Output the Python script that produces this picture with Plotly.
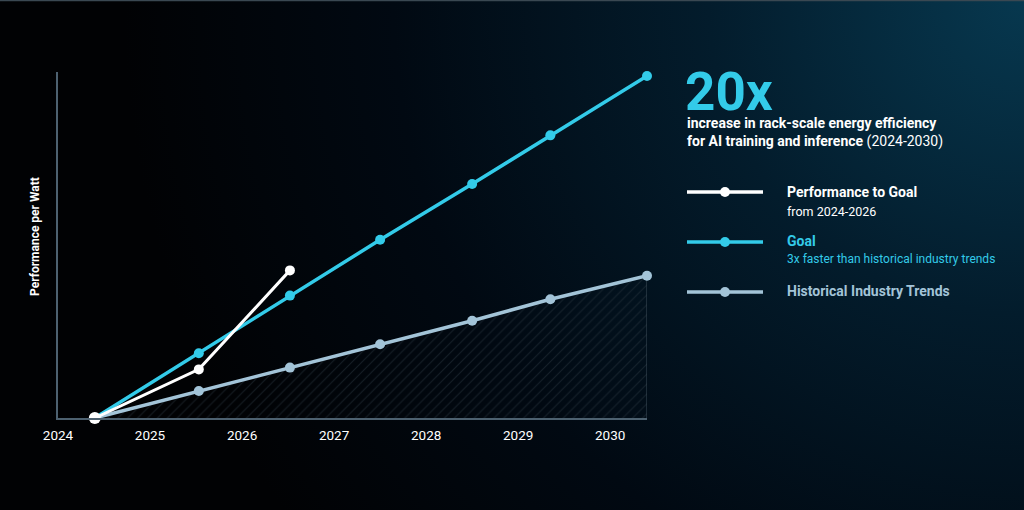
import plotly.graph_objects as go

# chart values
start_year = 2024.4
years = [2024.4, 2025.53, 2026.52, 2027.5, 2028.5, 2029.35, 2030.4]
goal = [1.0, 4.6, 7.8, 10.9, 14.0, 16.7, 20.0]
historical = [1.0, 2.5, 3.8, 5.1, 6.4, 7.6, 8.9]
perf_years = [2024.4, 2025.53, 2026.52]
performance = [1.0, 3.7, 9.2]
tick_years = [2024, 2025, 2026, 2027, 2028, 2029, 2030]

W, H = 1024, 510
CYAN = "#33cbe9"
STEEL = "#a3c4d8"
WHITE = "#ffffff"
AXIS = "#4d6170"
FONT = "Roboto, Liberation Sans, sans-serif"


def px(x):
    return x / W


def py(y):
    return 1 - y / H


fig = go.Figure()

# background glow, drawn on a full-page hidden subplot
fig.add_trace(go.Scatter(
    x=[0.12, 1.88, 1.88, 0.12, 0.12], y=[-0.76, -0.76, 2.76, 2.76, -0.76],
    mode="lines", line=dict(width=0), fill="toself",
    fillgradient=dict(type="radial", colorscale=[
        [0, "#07384f"], [0.35, "#031c2c"], [0.7, "#010912"], [1, "#010204"]]),
    hoverinfo="skip", showlegend=False, xaxis="x", yaxis="y",
))

# hatched area under the historical trend
fig.add_trace(go.Scatter(
    x=years + [years[-1]], y=historical + [1.0],
    mode="lines", line=dict(color="#3d4c58", width=1), fill="toself",
    fillcolor="rgba(0,0,0,0)",
    fillpattern=dict(shape="/", fgcolor="#2a3640", bgcolor="rgba(0,0,0,0)",
                     size=7, solidity=0.15),
    hoverinfo="skip", showlegend=False, xaxis="x2", yaxis="y2",
))

series = [
    (years, historical, STEEL, 3.5),
    (years, goal, CYAN, 3.5),
    (perf_years, performance, WHITE, 3),
]
for xs, ys, color, lw in series:
    fig.add_trace(go.Scatter(
        x=xs, y=ys, mode="lines+markers",
        line=dict(color=color, width=lw),
        marker=dict(color=color, size=10),
        cliponaxis=False, showlegend=False, xaxis="x2", yaxis="y2",
    ))

# common origin point
fig.add_trace(go.Scatter(
    x=[start_year], y=[1.0], mode="markers",
    marker=dict(color=WHITE, size=12), cliponaxis=False,
    showlegend=False, xaxis="x2", yaxis="y2",
))

# legend drawn by hand on the right
legend_rows = [(192, WHITE), (242, CYAN), (292, STEEL)]
shapes = []
for y, color in legend_rows:
    shapes.append(dict(type="line", xref="paper", yref="paper",
                       x0=px(687), x1=px(763), y0=py(y), y1=py(y),
                       line=dict(color=color, width=3.5)))
    shapes.append(dict(type="circle", xref="paper", yref="paper",
                       x0=px(720), x1=px(730), y0=py(y + 5), y1=py(y - 5),
                       fillcolor=color, line=dict(width=0)))
shapes.append(dict(type="line", xref="paper", yref="paper",
                   x0=0, x1=1, y0=py(0.5), y1=py(0.5),
                   line=dict(color="#3a4852", width=1.5)))


def label(x, y, text, size, color, bold=False, angle=0, anchor="left"):
    return dict(x=px(x), y=py(y), xref="paper", yref="paper",
                text=f"<b>{text}</b>" if bold else text,
                showarrow=False, xanchor=anchor, yanchor="middle",
                textangle=angle, borderpad=0,
                font=dict(family=FONT, size=size, color=color))


annotations = [
    label(684, 92, "20x", 53, CYAN, bold=True),
    label(686, 123, "increase in rack-scale energy efficiency", 14, WHITE, bold=True),
    label(686, 141, "<b>for AI training and inference</b> (2024-2030)", 14, WHITE),
    label(786, 192, "Performance to Goal", 14, WHITE, bold=True),
    label(786, 211, "from 2024-2026", 12.5, WHITE),
    label(786, 241, "Goal", 14, CYAN, bold=True),
    label(786, 259, "3x faster than historical industry trends", 12, CYAN),
    label(786, 291, "Historical Industry Trends", 14, STEEL, bold=True),
    label(35, 237, "Performance per Watt", 12, WHITE, bold=True, angle=-90,
          anchor="center"),
]

fig.update_layout(
    width=W, height=H,
    margin=dict(l=0, r=0, t=0, b=0, autoexpand=False),
    paper_bgcolor="#010204",
    plot_bgcolor="rgba(0,0,0,0)",
    showlegend=False,
    shapes=shapes,
    annotations=annotations,
    xaxis=dict(domain=[0, 1], range=[0, 1], visible=False, fixedrange=True),
    yaxis=dict(domain=[0, 1], range=[0, 1], visible=False, fixedrange=True),
    xaxis2=dict(
        domain=[px(58), px(647)], range=[2024, 2030.4], anchor="y2",
        showline=True, linecolor=AXIS, linewidth=1.5,
        showgrid=False, zeroline=False, ticks="", automargin=False,
        ticklabelstandoff=4,
        tickvals=tick_years, ticktext=[str(t) for t in tick_years],
        tickfont=dict(family=FONT, size=13.5, color=WHITE),
    ),
    yaxis2=dict(
        domain=[py(418), py(72)], range=[1, 20.22], anchor="x2",
        showline=True, linecolor=AXIS, linewidth=1.5, automargin=False,
        showgrid=False, zeroline=False, showticklabels=False, ticks="",
    ),
)

fig.write_html(
    "out.html",
    config={"displayModeBar": False},
    post_script="document.body.style.margin='0';"
                "document.body.style.overflow='hidden';"
                "document.body.style.background='#010204';",
)
